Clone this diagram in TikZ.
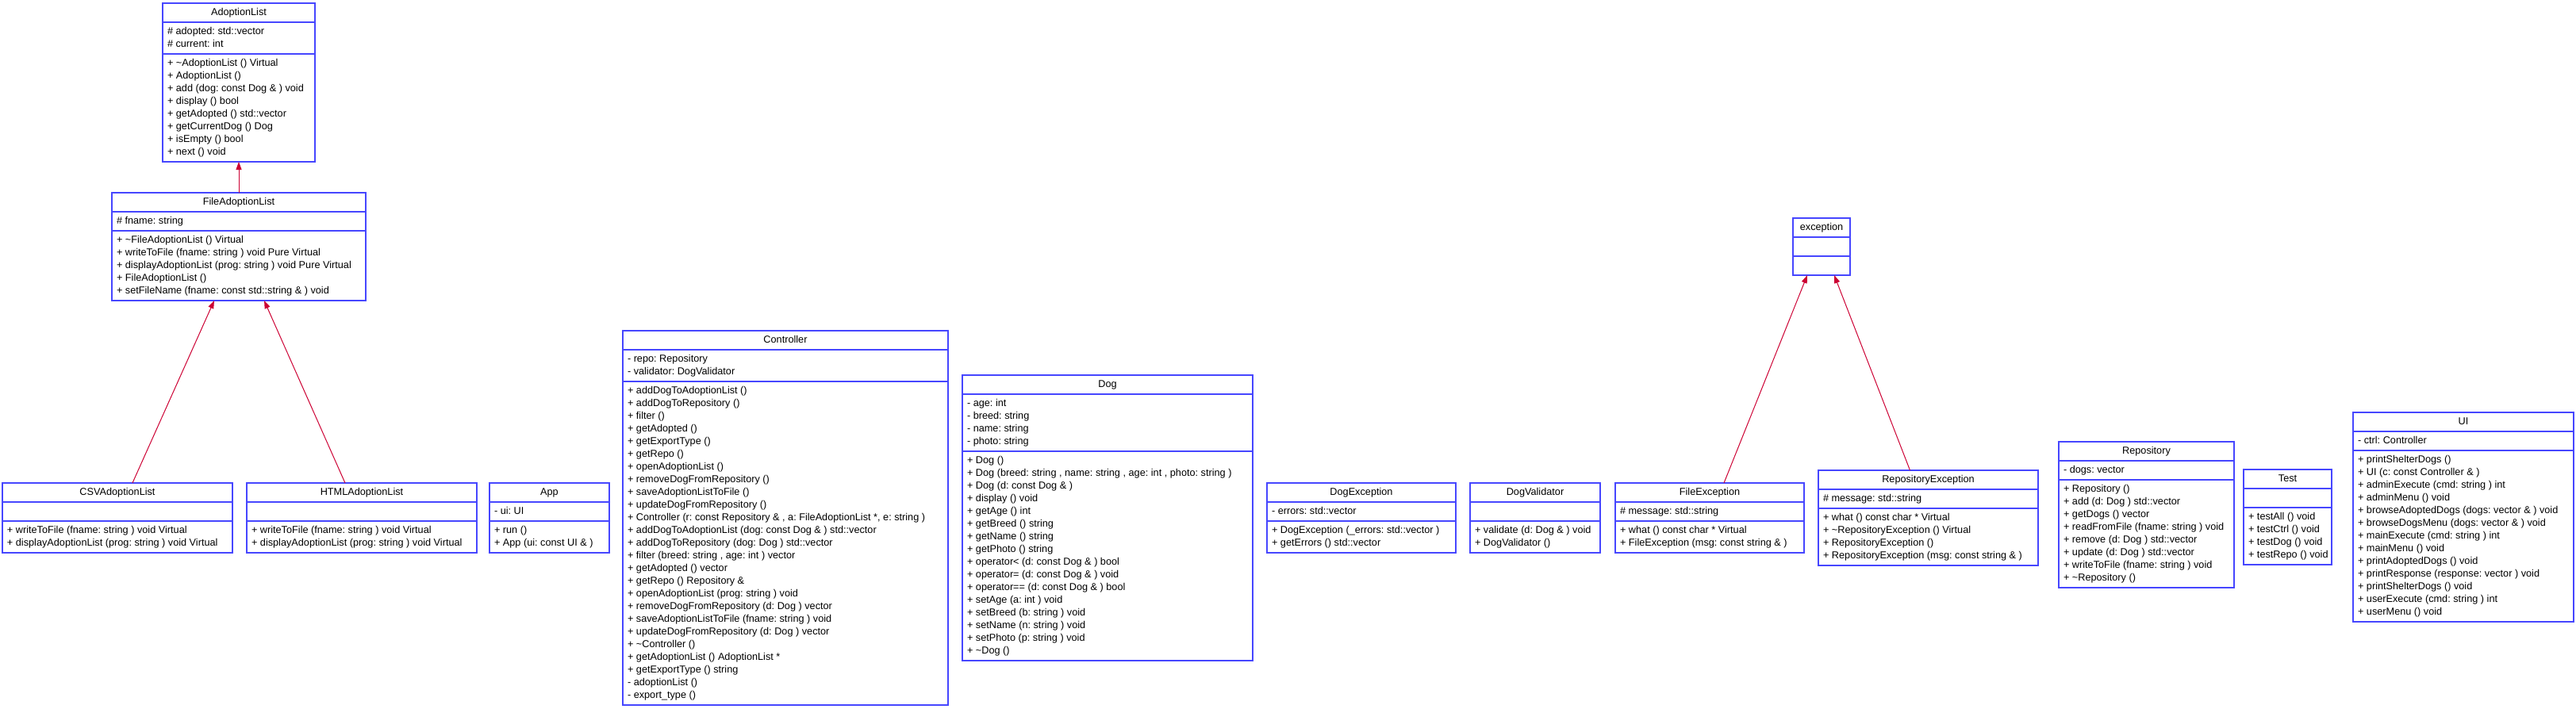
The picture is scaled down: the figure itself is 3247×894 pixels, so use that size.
\documentclass[tikz,border=0pt]{standalone}
\usepackage{fontspec}
\setmainfont{Liberation Sans}
\usetikzlibrary{arrows.meta,positioning,calc}
\definecolor{umlblue}{RGB}{70,70,255}
\definecolor{umlred}{RGB}{204,0,51}
\frenchspacing

% one class box: name, top left corner, width, title, attributes, methods
\newcommand{\umlclass}[6]{%
  \pgfmathsetmacro\tw{#3-12}%
  \node[classhead] (#1) at (#2) {\makebox[\tw pt]{\strut #4}};
  \node[classbody, below=0pt of #1] (#1-a)
    {\makebox[\tw pt][l]{\begin{tabular}{@{}l@{}}\strut#5\end{tabular}}};
  \node[classbody, below=0pt of #1-a] (#1-m)
    {\makebox[\tw pt][l]{\begin{tabular}{@{}l@{}}\strut#6\end{tabular}}};
}

\begin{document}
\begin{tikzpicture}[x=1pt, y=-1pt,
    classhead/.style={draw=umlblue, line width=1.15pt, fill=white, anchor=north west,
      inner xsep=6pt, inner ysep=4pt, outer sep=0pt,
      font=\fontsize{12.7}{16}\selectfont},
    classbody/.style={classhead},
    extends/.style={draw=umlred, line width=1pt, -{Triangle[length=10pt,width=7pt]}}]
        \useasboundingbox (0,0) rectangle (3247,894);
        % Adoption lists
        \umlclass{al}{205,4}{192}{AdoptionList}
          {\# adopted: std::vector\\ \# current: int}
          {+ \textasciitilde AdoptionList () Virtual\\ + AdoptionList ()\\
           + add (dog: const Dog \& ) void\\ + display () bool\\
           + getAdopted () std::vector\\ + getCurrentDog () Dog\\
           + isEmpty () bool\\ + next () void}
        \umlclass{fal}{141,243}{320}{FileAdoptionList}
          {\# fname: string}
          {+ \textasciitilde FileAdoptionList () Virtual\\
           + writeToFile (fname: string ) void Pure Virtual\\
           + displayAdoptionList (prog: string ) void Pure Virtual\\
           + FileAdoptionList ()\\
           + setFileName (fname: const std::string \& ) void}
        \umlclass{csv}{3,609}{290}{CSVAdoptionList}{}
          {+ writeToFile (fname: string ) void Virtual\\
           + displayAdoptionList (prog: string ) void Virtual}
        \umlclass{html}{311,609}{290}{HTMLAdoptionList}{}
          {+ writeToFile (fname: string ) void Virtual\\
           + displayAdoptionList (prog: string ) void Virtual}
        % App and controller
        \umlclass{app}{617,609}{151}{App}
          {- ui: UI}
          {+ run ()\\ + App (ui: const UI \& )}
        \umlclass{ctrl}{785,417}{410}{Controller}
          {- repo: Repository\\ - validator: DogValidator}
          {+ addDogToAdoptionList ()\\ + addDogToRepository ()\\ + filter ()\\
           + getAdopted ()\\ + getExportType ()\\ + getRepo ()\\
           + openAdoptionList ()\\ + removeDogFromRepository ()\\
           + saveAdoptionListToFile ()\\ + updateDogFromRepository ()\\
           + Controller (r: const Repository \& , a: FileAdoptionList *, e: string )\\
           + addDogToAdoptionList (dog: const Dog \& ) std::vector\\
           + addDogToRepository (dog: Dog ) std::vector\\
           + filter (breed: string , age: int ) vector\\
           + getAdopted () vector\\ + getRepo () Repository \&\\
           + openAdoptionList (prog: string ) void\\
           + removeDogFromRepository (d: Dog ) vector\\
           + saveAdoptionListToFile (fname: string ) void\\
           + updateDogFromRepository (d: Dog ) vector\\
           + \textasciitilde Controller ()\\ + getAdoptionList () AdoptionList *\\
           + getExportType () string\\ - adoptionList ()\\ - export\_type ()}
        % Domain
        \umlclass{dog}{1213,473}{366}{Dog}
          {- age: int\\ - breed: string\\ - name: string\\ - photo: string}
          {+ Dog ()\\
           + Dog (breed: string , name: string , age: int , photo: string )\\
           + Dog (d: const Dog \& )\\ + display () void\\ + getAge () int\\
           + getBreed () string\\ + getName () string\\ + getPhoto () string\\
           + operator< (d: const Dog \& ) bool\\
           + operator= (d: const Dog \& ) void\\
           + operator== (d: const Dog \& ) bool\\
           + setAge (a: int ) void\\ + setBreed (b: string ) void\\
           + setName (n: string ) void\\ + setPhoto (p: string ) void\\
           + \textasciitilde Dog ()}
        \umlclass{dogexc}{1597,609}{238}{DogException}
          {- errors: std::vector}
          {+ DogException (\_errors: std::vector )\\ + getErrors () std::vector}
        \umlclass{dogval}{1853,609}{164}{DogValidator}{}
          {+ validate (d: Dog \& ) void\\ + DogValidator ()}
        % Exceptions
        \umlclass{exc}{2260,275}{72}{exception}{}{}
        \umlclass{fileexc}{2036,609}{238}{FileException}
          {\# message: std::string}
          {+ what () const char * Virtual\\ + FileException (msg: const string \& )}
        \umlclass{repoexc}{2292,593}{277}{RepositoryException}
          {\# message: std::string}
          {+ what () const char * Virtual\\
           + \textasciitilde RepositoryException () Virtual\\
           + RepositoryException ()\\
           + RepositoryException (msg: const string \& )}
        % Repository, tests, UI
        \umlclass{repo}{2595,557}{221}{Repository}
          {- dogs: vector}
          {+ Repository ()\\ + add (d: Dog ) std::vector\\ + getDogs () vector\\
           + readFromFile (fname: string ) void\\ + remove (d: Dog ) std::vector\\
           + update (d: Dog ) std::vector\\ + writeToFile (fname: string ) void\\
           + \textasciitilde Repository ()}
        \umlclass{test}{2828,592}{111}{Test}{}
          {+ testAll () void\\ + testCtrl () void\\ + testDog () void\\
           + testRepo () void}
        \umlclass{ui}{2966,520}{278}{UI}
          {- ctrl: Controller}
          {+ printShelterDogs ()\\ + UI (c: const Controller \& )\\
           + adminExecute (cmd: string ) int\\ + adminMenu () void\\
           + browseAdoptedDogs (dogs: vector \& ) void\\
           + browseDogsMenu (dogs: vector \& ) void\\
           + mainExecute (cmd: string ) int\\ + mainMenu () void\\
           + printAdoptedDogs () void\\ + printResponse (response: vector ) void\\
           + printShelterDogs () void\\ + userExecute (cmd: string ) int\\
           + userMenu () void}
        % Inheritance
        \draw[extends] (fal.north) -- (al-m.south);
        \draw[extends] ([xshift=19pt]csv.north) -- ([xshift=-31pt]fal-m.south);
        \draw[extends] ([xshift=-21pt]html.north) -- ([xshift=32pt]fal-m.south);
        \draw[extends] ([xshift=18pt]fileexc.north) -- ([xshift=-18pt]exc-m.south);
        \draw[extends] ([xshift=-23pt]repoexc.north) -- ([xshift=16pt]exc-m.south);
\end{tikzpicture}
\end{document}
